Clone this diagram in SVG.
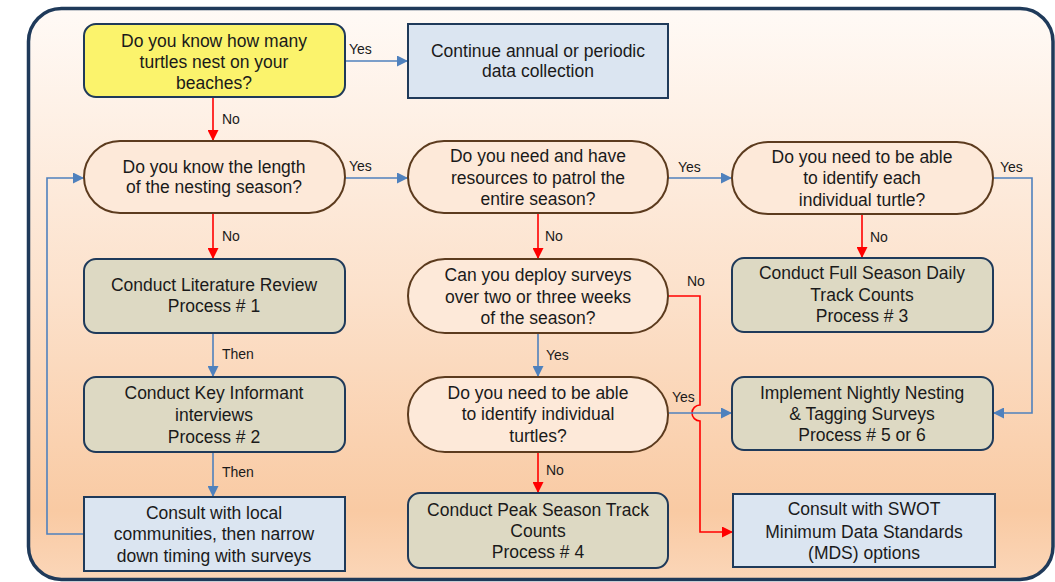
<svg xmlns="http://www.w3.org/2000/svg" width="1055" height="582" viewBox="0 0 1055 582">
  <defs>
    <linearGradient id="bg" x1="0" y1="0" x2="0" y2="1">
      <stop offset="0" stop-color="#fffaf6"/>
      <stop offset="0.5" stop-color="#fce1cb"/>
      <stop offset="0.88" stop-color="#f9caa3"/>
      <stop offset="1" stop-color="#fbd6b8"/>
    </linearGradient>
    <marker id="arrowBlue" viewBox="0 0 10 10" refX="10" refY="5" markerWidth="11" markerHeight="11" markerUnits="userSpaceOnUse" orient="auto">
      <path d="M0,0 L10,5 L0,10 z" fill="#4f81bd"/>
    </marker>
    <marker id="arrowRed" viewBox="0 0 10 10" refX="10" refY="5" markerWidth="11" markerHeight="11" markerUnits="userSpaceOnUse" orient="auto">
      <path d="M0,0 L10,5 L0,10 z" fill="#ff0000"/>
    </marker>
  </defs>
  <style>
    text { font-family: "Liberation Sans", Arial, sans-serif; fill: #1a1a1a; }
    .t { font-size: 17.5px; text-anchor: middle; dominant-baseline: central; }
    .lbl { font-size: 14px; dominant-baseline: central; }
    .yellow { fill: #fbf36c; stroke: #1f3a5a; stroke-width: 2; }
    .blue { fill: #dbe5f1; stroke: #1f3a5a; stroke-width: 2; }
    .proc { fill: #ddd9c3; stroke: #1f3a5a; stroke-width: 2; }
    .dec { fill: #fde9d9; stroke: #5c3b1e; stroke-width: 2; }
    .cb { fill: none; stroke: #4f81bd; stroke-width: 1.6; marker-end: url(#arrowBlue); }
    .cr { fill: none; stroke: #ff0000; stroke-width: 1.6; marker-end: url(#arrowRed); }
  </style>

  <rect x="0" y="0" width="1055" height="582" fill="#ffffff"/>
  <!-- panel frame -->
  <rect x="28.5" y="8.5" width="1024.5" height="571" rx="33" fill="url(#bg)" stroke="#1f3a5a" stroke-width="3.5"/>

  <!-- connectors -->
  <g id="connectors">
    <path class="cb" d="M345,61 H408"/>
    <text class="lbl" x="349" y="49">Yes</text>
    <path class="cr" d="M213,97 V141"/>
    <text class="lbl" x="222" y="119">No</text>
    <path class="cb" d="M345,178 H408"/>
    <text class="lbl" x="349" y="166">Yes</text>
    <path class="cb" d="M668,178 H732"/>
    <text class="lbl" x="678" y="167">Yes</text>
    <path class="cb" d="M993,178 H1032 V413 H993"/>
    <text class="lbl" x="1000" y="167">Yes</text>
    <path class="cr" d="M862,214 V258"/>
    <text class="lbl" x="870" y="237">No</text>
    <path class="cr" d="M538,213 V259"/>
    <text class="lbl" x="545" y="236">No</text>
    <path class="cr" d="M668,296 H700 V405 A8,8 0 0 0 700,421 V532 H733"/>
    <text class="lbl" x="687" y="281">No</text>
    <path class="cb" d="M538,333 V377"/>
    <text class="lbl" x="546" y="355">Yes</text>
    <path class="cb" d="M668,413 H732"/>
    <text class="lbl" x="672" y="397">Yes</text>
    <path class="cr" d="M538,452 V493"/>
    <text class="lbl" x="546" y="470">No</text>
    <path class="cr" d="M213,213 V259"/>
    <text class="lbl" x="222" y="236">No</text>
    <path class="cb" d="M213,333 V377"/>
    <text class="lbl" x="222" y="354">Then</text>
    <path class="cb" d="M213,452 V497"/>
    <text class="lbl" x="222" y="472">Then</text>
    <path class="cb" d="M84,534 H47 V178 H84"/>
  </g>

  <g id="n-how-many">
    <rect class="yellow" x="84" y="24" width="261" height="73" rx="12"/>
    <text class="t" x="214" y="41">Do you know how many</text>
    <text class="t" x="214" y="62">turtles nest on your</text>
    <text class="t" x="214" y="83">beaches?</text>
  </g>
  <g id="n-continue">
    <rect class="blue" x="408" y="24" width="260" height="74"/>
    <text class="t" x="538" y="51">Continue annual or periodic</text>
    <text class="t" x="538" y="71">data collection</text>
  </g>
  <g id="n-season-length">
    <rect class="dec" x="84" y="141" width="261" height="72" rx="36"/>
    <text class="t" x="214" y="167">Do you know the length</text>
    <text class="t" x="214" y="187">of the nesting season?</text>
  </g>
  <g id="n-patrol">
    <rect class="dec" x="408" y="141" width="260" height="72" rx="36"/>
    <text class="t" x="538" y="156">Do you need and have</text>
    <text class="t" x="538" y="178">resources to patrol the</text>
    <text class="t" x="538" y="199">entire season?</text>
  </g>
  <g id="n-identify-each">
    <rect class="dec" x="732" y="142" width="261" height="72" rx="36"/>
    <text class="t" x="862" y="157">Do you need to be able</text>
    <text class="t" x="862" y="178">to identify each</text>
    <text class="t" x="862" y="200">individual turtle?</text>
  </g>
  <g id="n-full-season">
    <rect class="proc" x="732" y="258" width="261" height="74" rx="12"/>
    <text class="t" x="862" y="273">Conduct Full Season Daily</text>
    <text class="t" x="862" y="295">Track Counts</text>
    <text class="t" x="862" y="316">Process # 3</text>
  </g>
  <g id="n-literature">
    <rect class="proc" x="84" y="259" width="261" height="74" rx="12"/>
    <text class="t" x="214" y="285">Conduct Literature Review</text>
    <text class="t" x="214" y="306">Process # 1</text>
  </g>
  <g id="n-deploy">
    <rect class="dec" x="408" y="259" width="260" height="74" rx="37"/>
    <text class="t" x="538" y="275">Can you deploy surveys</text>
    <text class="t" x="538" y="297">over two or three weeks</text>
    <text class="t" x="538" y="318">of the season?</text>
  </g>
  <g id="n-informant">
    <rect class="proc" x="84" y="377" width="261" height="75" rx="12"/>
    <text class="t" x="214" y="393">Conduct Key Informant</text>
    <text class="t" x="214" y="415">interviews</text>
    <text class="t" x="214" y="437">Process # 2</text>
  </g>
  <g id="n-identify-individual">
    <rect class="dec" x="408" y="377" width="260" height="75" rx="37"/>
    <text class="t" x="538" y="393">Do you need to be able</text>
    <text class="t" x="538" y="414">to identify individual</text>
    <text class="t" x="538" y="436">turtles?</text>
  </g>
  <g id="n-nightly">
    <rect class="proc" x="732" y="377" width="261" height="73" rx="12"/>
    <text class="t" x="862" y="393">Implement Nightly Nesting</text>
    <text class="t" x="862" y="414">&amp; Tagging Surveys</text>
    <text class="t" x="862" y="435">Process # 5 or 6</text>
  </g>
  <g id="n-local">
    <rect class="blue" x="84" y="497" width="261" height="74"/>
    <text class="t" x="214" y="513">Consult with local</text>
    <text class="t" x="214" y="534">communities, then narrow</text>
    <text class="t" x="214" y="556">down timing with surveys</text>
  </g>
  <g id="n-peak">
    <rect class="proc" x="408" y="493" width="260" height="75" rx="12"/>
    <text class="t" x="538" y="510">Conduct Peak Season Track</text>
    <text class="t" x="538" y="531">Counts</text>
    <text class="t" x="538" y="552">Process # 4</text>
  </g>
  <g id="n-swot">
    <rect class="blue" x="733" y="494" width="262" height="73"/>
    <text class="t" x="864" y="509">Consult with SWOT</text>
    <text class="t" x="864" y="532">Minimum Data Standards</text>
    <text class="t" x="864" y="553">(MDS) options</text>
  </g>
</svg>
